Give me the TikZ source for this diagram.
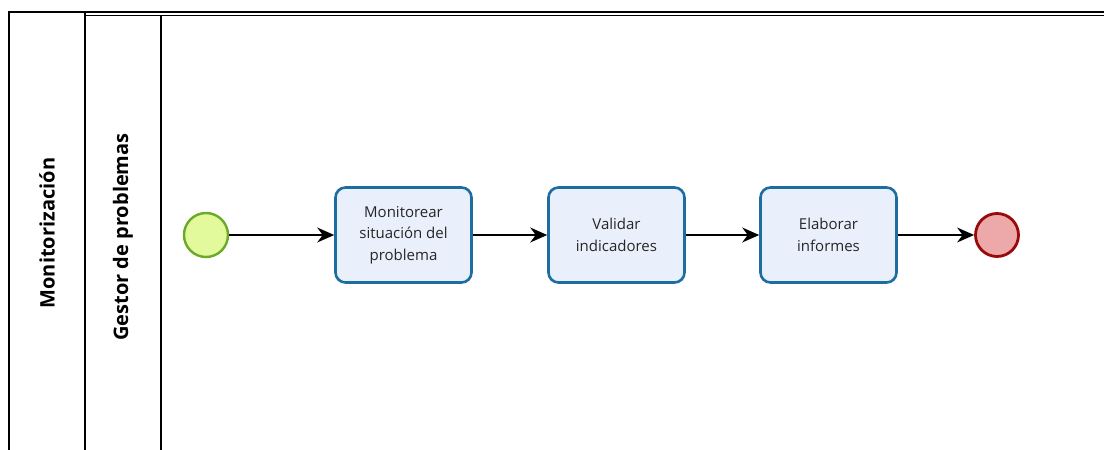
\documentclass[tikz,border=0pt]{standalone}
\usepackage{fontspec}
\setmainfont{Open Sans}
\usetikzlibrary{arrows.meta,positioning}
\definecolor{taskfill}{HTML}{EAEFFC}
\definecolor{taskline}{HTML}{1C6EA0}
\definecolor{startfill}{HTML}{E2FA9C}
\definecolor{startline}{HTML}{6AAA28}
\definecolor{endfill}{HTML}{EDA9AA}
\definecolor{endline}{HTML}{9A0A0A}
\tikzset{
  task/.style={draw=taskline,fill=taskfill,line width=2.6pt,rounded corners=10pt,
    minimum width=136pt,minimum height=95pt,align=center,
    font=\fontsize{15}{21.5}\selectfont,text=black!85},
  startev/.style={circle,draw=startline,fill=startfill,line width=2.4pt,minimum size=44pt,inner sep=0pt},
  endev/.style={circle,draw=endline,fill=endfill,line width=2.8pt,minimum size=43pt,inner sep=0pt},
  flow/.style={-{Stealth[length=17pt,width=15pt]},line width=1.4pt},
  lane/.style={line width=1.8pt},
  lanelabel/.style={rotate=90,font=\bfseries\fontsize{20}{24}\selectfont}
}
\begin{document}
\begin{tikzpicture}[x=1pt,y=-1pt]
\useasboundingbox (0,0) rectangle (1104,450);
% pool and lane
\draw[lane] (9,460) -- (9,12) -- (1110,12);
\draw[lane] (85,460) -- (85,12);
\draw[lane] (85,15.5) -- (1110,15.5);
\draw[lane] (161,460) -- (161,15.5);
\node[lanelabel] (pool) at (47,233) {Monitorización};
\node[lanelabel] (gestor) at (123,237) {Gestor de problemas};
% flow
\node[startev] (start) at (206,235) {};
\node[task] (monitor) at (403.5,235) {Monitorear\\situación del\\problema};
\node[task] (validar) at (616.5,235) {Validar\\indicadores};
\node[task] (informes) at (828.5,235) {Elaborar\\informes};
\node[endev] (fin) at (997,235) {};
\draw[flow] (start) -- (monitor);
\draw[flow] (monitor) -- (validar);
\draw[flow] (validar) -- (informes);
\draw[flow] (informes) -- (fin);
\end{tikzpicture}
\end{document}
